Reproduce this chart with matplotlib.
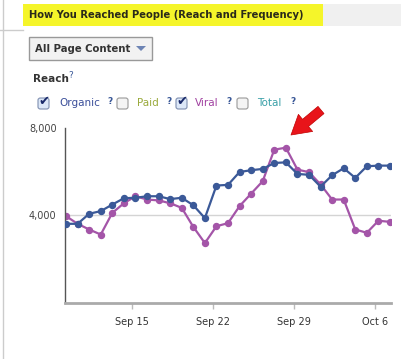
import matplotlib
matplotlib.use("Agg")
import matplotlib.pyplot as plt
import matplotlib.dates as mdates
from matplotlib.patches import Rectangle, FancyBboxPatch, Polygon, FancyArrowPatch
import numpy as np
import pandas as pd

# ---- data ----
dates = pd.date_range("2012-09-09", "2012-10-07", freq="D")
organic = [3620, 3620, 4080, 4200, 4500, 4790, 4810, 4880, 4880, 4750,
           4810, 4470, 3880, 5370, 5400, 5990, 6070, 6130, 6400, 6430,
           5900, 5860, 5320, 5840, 6160, 5720, 6250, 6280, 6280]
viral = [3970, 3620, 3360, 3130, 4120, 4560, 4880, 4730, 4690, 4560,
         4350, 3480, 2740, 3510, 3650, 4430, 5000, 5570, 7010, 7100,
         6100, 5980, 5420, 4730, 4730, 3360, 3210, 3760, 3710]
tick_dates = ["2012-09-15", "2012-09-22", "2012-09-29", "2012-10-06"]
tick_labels = ["Sep 15", "Sep 22", "Sep 29", "Oct 6"]
y_ticks = [4000, 8000]
y_tick_labels = ["4,000", "8,000"]
legend_items = ["Organic", "Paid", "Viral", "Total"]
legend_checked = [True, False, True, False]

W, H = 402, 359
fig = plt.figure(figsize=(W / 100, H / 100), dpi=100)
fig.patch.set_facecolor("white")
plt.rcParams['font.family'] = ['DejaVu Sans']

def P(x, y):
    return (x / W, 1 - y / H)

TF = fig.transFigure

# page decoration
fig.add_artist(plt.Line2D([3 / W, 3 / W], [0, 1], transform=TF, color="#cccccc", lw=1))
fig.add_artist(plt.Line2D([0, 23 / W], [1 - 30 / H] * 2, transform=TF, color="#cccccc", lw=1))
# header band
fig.add_artist(Rectangle(P(23, 26), 300 / W, 22 / H, transform=TF, color="#f5f52a", lw=0))
fig.add_artist(Rectangle(P(323, 26), 79 / W, 22 / H, transform=TF, color="#f0f0f0", lw=0))
fig.text(*P(29, 15.5), "How You Reached People (Reach and Frequency)", fontsize=7.2,
         fontweight="bold", color="#2a2a1a", va="center", ha="left")

# dropdown
fig.add_artist(FancyBboxPatch(P(29, 60), 123 / W, 23 / H, boxstyle="square,pad=0",
                              transform=TF, facecolor="#f2f2f2", edgecolor="#999999", lw=1))
fig.text(*P(35, 48.5), "All Page Content", fontsize=7.3, fontweight="bold",
         color="#333333", va="center", ha="left")
fig.add_artist(Polygon([P(136, 46), P(146, 46), P(141, 51)], closed=True, transform=TF,
                       facecolor="#6d84b4", edgecolor="none"))

# Reach label
fig.text(*P(33, 79.5), "Reach", fontsize=7.5, fontweight="bold", color="#333333",
         va="center", ha="left")
fig.text(*P(68, 75), "?", fontsize=6.5, color="#3b5998", va="center", ha="left")

# legend row
leg_colors = ["#3b4f9a", "#9aaa3c", "#a040a0", "#3aa0a8"]
box_x = [38, 117, 176, 237]
text_x = [59, 137, 195, 257]
q_x = [107, 166, 226, 290]
for lab, chk, col, bx, tx, qx in zip(legend_items, legend_checked, leg_colors, box_x, text_x, q_x):
    fig.add_artist(FancyBboxPatch(P(bx, 109), 11 / W, 11 / H,
                                  boxstyle="round,pad=0,rounding_size=0.006", transform=TF,
                                  facecolor="#dde8f8" if chk else "#f4f4f4",
                                  edgecolor="#7f8fb0" if chk else "#999999", lw=0.8))
    if chk:
        fig.text(*P(bx + 6, 102), "\u2714", fontsize=9.5, color="#1a2a6a",
                 va="center", ha="center")
    fig.text(*P(tx, 103), lab, fontsize=7.5, color=col, va="center", ha="left")
    fig.text(*P(qx, 101), "?", fontsize=6.5, color="#3b5998", va="center", ha="left",
             fontweight="bold")

# ---- chart ----
ax = fig.add_axes([65 / W, 56 / H, 326 / W, 175 / H])
x = dates + pd.Timedelta(hours=6.5)
ax.axhline(4000, color="#d4d4d4", lw=1, zorder=0)
ax.plot(x, organic, color="#3b5998", lw=1.6, marker="o", ms=4.3, zorder=3)
ax.plot(x, viral, color="#a455a8", lw=1.6, marker="o", ms=4.3, zorder=2)

ax.set_ylim(0, 8000)
x0 = mdates.date2num(pd.Timestamp("2012-09-15"))
ax.set_xlim(x0 - 5.82, x0 + 22.36)
ax.set_yticks(y_ticks)
ax.set_yticklabels(y_tick_labels)
ax.set_xticks(pd.to_datetime(tick_dates))
ax.set_xticklabels(tick_labels)
ax.tick_params(axis="y", length=0, pad=6, labelsize=7, labelcolor="#444444")
ax.tick_params(axis="x", length=4, width=1, color="#bbbbbb", pad=6, labelsize=7,
               labelcolor="#333333")
for s in ["top", "right"]:
    ax.spines[s].set_visible(False)
ax.spines["left"].set_color("#555555")
ax.spines["left"].set_linewidth(1)
ax.spines["bottom"].set_color("#aaaaaa")
ax.spines["bottom"].set_linewidth(2)
ax.set_facecolor("none")

# red arrow
fig.add_artist(FancyArrowPatch(P(321, 110), P(291, 135), transform=TF,
                               arrowstyle="simple,head_width=1.0,head_length=0.85,tail_width=0.42",
                               mutation_scale=16, facecolor="#e8141a", edgecolor="#c00000",
                               lw=0.5, zorder=10, shrinkA=0, shrinkB=0))

fig.savefig("out.png", dpi=100)
